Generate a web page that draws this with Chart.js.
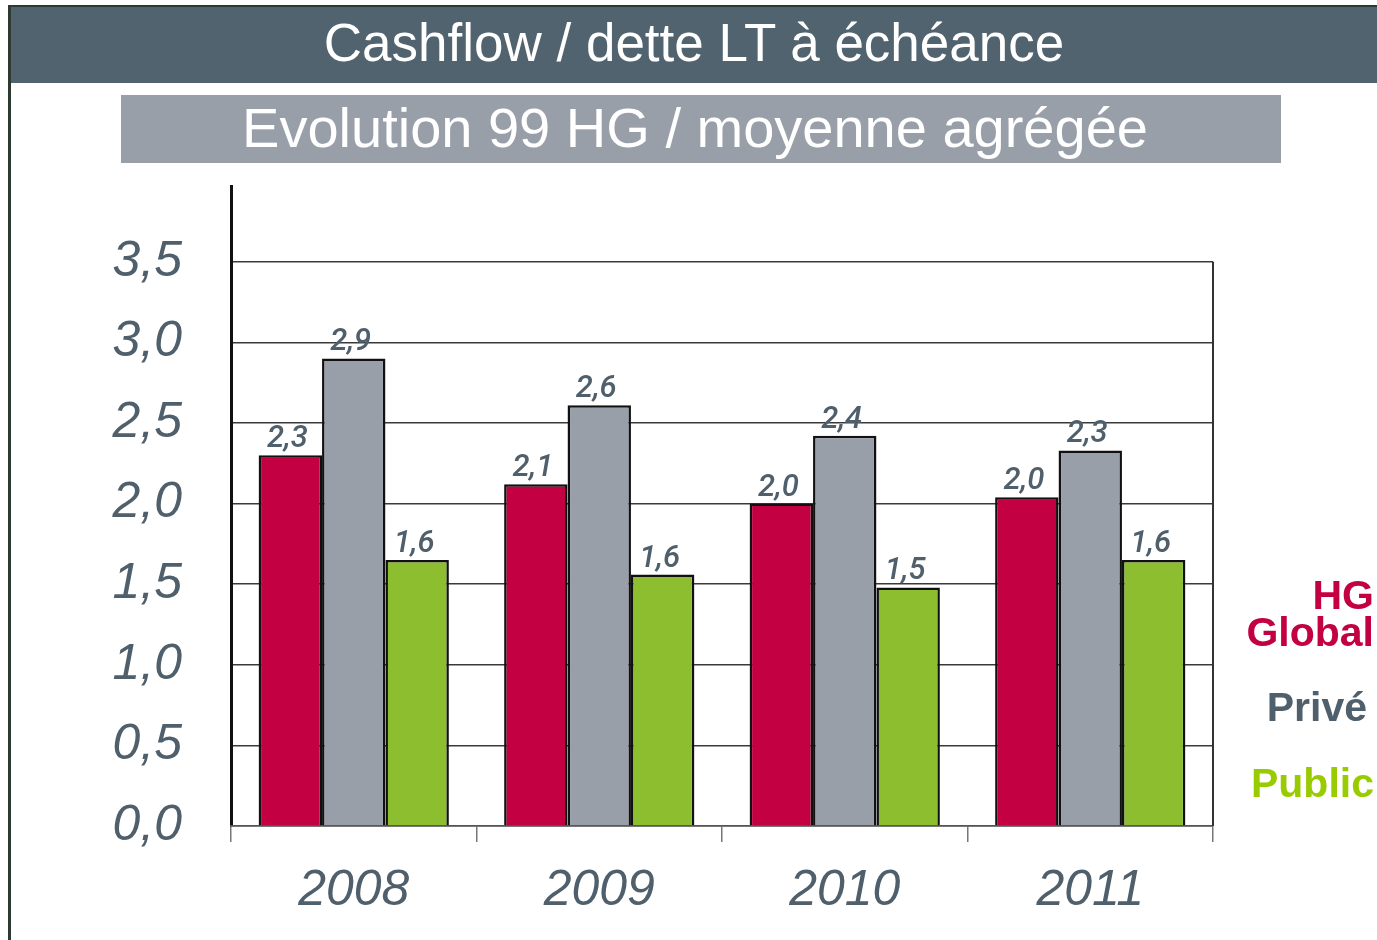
<!DOCTYPE html>
<html lang="fr">
<head>
<meta charset="utf-8">
<title>Cashflow / dette LT à échéance</title>
<script src="https://cdn.jsdelivr.net/npm/chart.js@4.4.1/dist/chart.umd.min.js"></script>
<style>
  html, body { margin: 0; padding: 0; background: #fff; }
  body { width: 1377px; height: 940px; position: relative; overflow: hidden;
         font-family: 'Liberation Sans', Arial, sans-serif; }
  #frame { position: absolute; left: 8px; top: 5px; right: 0; bottom: 0;
           border-top: 2px solid #2e3a30; border-left: 3px solid #2e3a30; }
  #title { position: absolute; left: 11px; top: 7px; right: 0; height: 76px;
           background: #51636f; color: #fff; font-size: 53px; line-height: 72px;
           text-align: center; }
  #subtitle { position: absolute; left: 121px; top: 95px; width: 1148px; height: 68px;
              padding-right: 12px;
              background: #999fa9; color: #fff; font-size: 56px; line-height: 66px;
              text-align: center; }
  #chart { position: absolute; left: 0; top: 170px; }
</style>
</head>
<body>
<div id="frame"></div>
<div id="title">Cashflow / dette LT à échéance</div>
<div id="subtitle">Evolution 99 HG / moyenne agrégée</div>
<canvas id="chart" width="1377" height="770"></canvas>

<script>
/* -----------------------------
   Data
------------------------------ */
const years = ['2008', '2009', '2010', '2011'];
const seriesNames = ['HG Global', 'Privé', 'Public'];

const hgGlobal = [2.30, 2.12, 2.00, 2.04];
const prive    = [2.90, 2.61, 2.42, 2.33];
const publicV  = [1.65, 1.56, 1.48, 1.65];

const hgGlobalLabels = ['2,3', '2,1', '2,0', '2,0'];
const priveLabels    = ['2,9', '2,6', '2,4', '2,3'];
const publicLabels   = ['1,6', '1,6', '1,5', '1,6'];

const barColors    = ['#c30042', '#999fa9', '#8dbe2f'];
const legendColors = ['#c30042', '#4f5f6b', '#99cc00'];
const textColor = '#4f5f6b';

/* -----------------------------
   Plugins: value labels, frame, legend
------------------------------ */
const valueLabels = {
  id: 'valueLabels',
  afterDatasetsDraw(chart) {
    const ctx = chart.ctx;
    ctx.save();
    ctx.font = "italic 500 31px Roboto, 'DejaVu Sans Condensed', sans-serif";
    ctx.fillStyle = textColor;
    ctx.textAlign = 'center';
    ctx.textBaseline = 'alphabetic';
    chart.data.datasets.forEach((ds, i) => {
      chart.getDatasetMeta(i).data.forEach((bar, j) => {
        ctx.fillText(ds.valueLabels[j], bar.x - 3, bar.y - 8);
      });
    });
    ctx.restore();
  }
};

const plotFrame = {
  id: 'plotFrame',
  afterDraw(chart) {
    const ctx = chart.ctx;
    const area = chart.chartArea;
    const yTop = chart.scales.y.getPixelForValue(3.5);
    ctx.save();
    ctx.strokeStyle = '#333';
    ctx.lineWidth = 2;
    ctx.beginPath();
    ctx.moveTo(area.right, yTop);
    ctx.lineTo(area.right, area.bottom);
    ctx.stroke();
    ctx.restore();
  }
};

const sideLegend = {
  id: 'sideLegend',
  afterDraw(chart) {
    const ctx = chart.ctx;
    const baselines = [[439, 476], [551], [627]];
    const rights = [1374, 1367, 1374];
    ctx.save();
    ctx.font = "bold 41px 'Liberation Sans', Arial, sans-serif";
    ctx.textAlign = 'right';
    ctx.textBaseline = 'alphabetic';
    chart.data.datasets.forEach((ds, i) => {
      ctx.fillStyle = legendColors[i];
      ds.label.split(' ').forEach((line, k) => {
        ctx.fillText(line, rights[i], baselines[i][k]);
      });
    });
    ctx.restore();
  }
};

/* -----------------------------
   Chart
------------------------------ */
const ctx = document.getElementById('chart').getContext('2d');
const seriesValues = [hgGlobal, prive, publicV];
const seriesLabels = [hgGlobalLabels, priveLabels, publicLabels];

new Chart(ctx, {
  type: 'bar',
  data: {
    labels: years,
    datasets: seriesNames.map((name, i) => ({
      label: name,
      data: seriesValues[i],
      valueLabels: seriesLabels[i],
      backgroundColor: barColors[i],
      borderColor: '#111',
      borderWidth: 2.5,
      borderSkipped: 'bottom',
      categoryPercentage: 0.775,
      barPercentage: 1.0
    }))
  },
  options: {
    responsive: false,
    devicePixelRatio: 1,
    animation: false,
    layout: { padding: { left: 0, right: 164, top: 16, bottom: 0 } },
    plugins: {
      legend: { display: false },
      tooltip: { enabled: false }
    },
    scales: {
      y: {
        min: 0,
        max: 3.97,
        afterFit(scale) {
          scale.width = 231;
          scale.paddingTop = 0;
          scale.paddingBottom = 0;
        },
        ticks: {
          stepSize: 0.5,
          includeBounds: false,
          padding: 49,
          color: textColor,
          font: { family: "'Liberation Sans', Arial, sans-serif", size: 50, style: 'italic' },
          callback: v => v.toFixed(1).replace('.', ',')
        },
        grid: { color: '#3a3a3a', lineWidth: 1.5, drawTicks: false },
        border: { color: '#111', width: 3 }
      },
      x: {
        afterFit(scale) {
          scale.height = 114;
          scale.paddingLeft = 0;
          scale.paddingRight = 0;
        },
        ticks: {
          padding: 19,
          color: textColor,
          font: { family: "'Liberation Sans', Arial, sans-serif", size: 50, style: 'italic' }
        },
        grid: { drawOnChartArea: false, drawTicks: true, tickLength: 16, color: '#777', lineWidth: 1.5 },
        border: { color: '#555', width: 1.5 }
      }
    }
  },
  plugins: [valueLabels, plotFrame, sideLegend]
});
</script>
</body>
</html>
